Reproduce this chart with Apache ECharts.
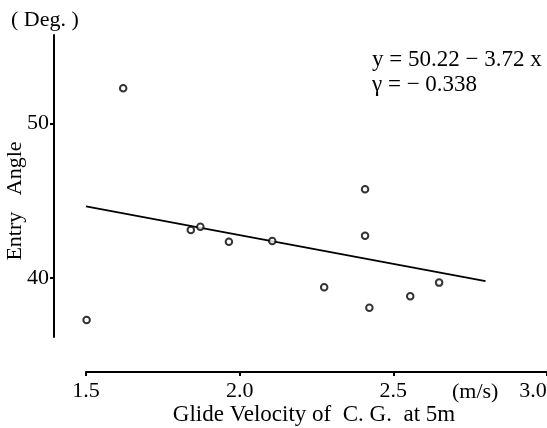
<!DOCTYPE html>
<html>
<head>
<meta charset="utf-8">
<script src="https://cdn.jsdelivr.net/npm/echarts@6/dist/echarts.min.js"></script>
<style>html,body{margin:0;padding:0;background:#fff;}#c{width:547px;height:428px;}</style>
</head>
<body>
<div id="c"></div>
<script>
// Data
var velocity = [1.621, 1.502, 1.841, 1.872, 1.965, 2.106, 2.408, 2.408, 2.275, 2.422, 2.555, 2.649];
var entryAngle = [52.28, 37.28, 43.11, 43.32, 42.35, 42.39, 45.74, 42.74, 39.40, 38.08, 38.82, 39.70];
var fitX = [1.5, 2.8];
var fitY = [44.64, 39.80];
var yTickValues = [40, 50];
var xTicks = [1.5, 2.0, 2.5, 3.0];

var FONT = 'Liberation Serif';
var chart = echarts.init(document.getElementById('c'), null, {renderer: 'canvas'});
var pts = velocity.map(function (v, i) { return [v, entryAngle[i]]; });
var fit = fitX.map(function (v, i) { return [v, fitY[i]]; });
var xMax = xTicks[xTicks.length - 1];

chart.setOption({
  animation: false,
  backgroundColor: '#fff',
  grid: {left: 86, right: 0, top: 35, bottom: 91, outerBoundsMode: 'none'},
  xAxis: {
    type: 'value', min: xTicks[0], max: xMax, interval: 0.5,
    offset: 35,
    axisLine: {show: true, onZero: false, lineStyle: {color: '#000', width: 2}},
    axisTick: {show: true, length: 4, lineStyle: {color: '#000', width: 2}},
    axisLabel: {
      color: '#000', fontFamily: FONT, fontSize: 22, margin: 8,
      formatter: function (v) {
        return v === xMax ? '{r|' + v.toFixed(1) + '}' : v.toFixed(1);
      },
      rich: {r: {color: '#000', fontFamily: FONT, fontSize: 22, padding: [0, 28, 0, 0]}}
    },
    splitLine: {show: false}
  },
  yAxis: {
    type: 'value', min: 36.18, max: 55.73,
    offset: 32,
    axisLine: {show: true, onZero: false, lineStyle: {color: '#000', width: 2}},
    axisTick: {show: true, length: 4, customValues: yTickValues, lineStyle: {color: '#000', width: 2}},
    axisLabel: {color: '#000', fontFamily: FONT, fontSize: 22, margin: 5, customValues: yTickValues},
    splitLine: {show: false}
  },
  graphic: [
    {type: 'text', left: 11, top: 9, style: {text: '( Deg. )', font: '22px "' + FONT + '"', fill: '#000'}},
    {type: 'text', x: 15, y: 201, rotation: Math.PI / 2,
     style: {text: 'Entry   Angle', font: '22px "' + FONT + '"', fill: '#000', align: 'center', verticalAlign: 'middle'}},
    {type: 'text', left: 452, top: 381, style: {text: '(m/s)', font: '22px "' + FONT + '"', fill: '#000'}},
    {type: 'text', x: 314, y: 415, style: {text: 'Glide Velocity of  C. G.  at 5m', font: '23px "' + FONT + '"', fill: '#000', align: 'center', verticalAlign: 'middle'}},
    {type: 'text', left: 372, top: 48, style: {text: 'y = 50.22 \u2212 3.72 x', font: '23px "' + FONT + '"', fill: '#000'}},
    {type: 'text', left: 372, top: 73, style: {text: '\u03b3 = \u2212 0.338', font: '23px "' + FONT + '"', fill: '#000'}}
  ],
  series: [
    {type: 'line', data: fit, symbol: 'none', z: 2,
     lineStyle: {color: '#000', width: 1.7}},
    {type: 'scatter', data: pts, symbol: 'circle', symbolSize: 6.5, z: 3,
     itemStyle: {color: '#fff', borderColor: '#000', borderWidth: 2}}
  ]
});
</script>
</body>
</html>
